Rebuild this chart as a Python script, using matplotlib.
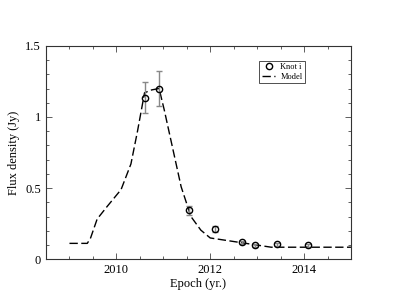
import matplotlib
matplotlib.use("Agg")
import matplotlib.pyplot as plt
from matplotlib.ticker import MultipleLocator, FormatStrFormatter

plt.rcParams['font.family'] = ['Liberation Serif', 'DejaVu Serif']

# observed flux of knot i
epoch = [2010.61, 2010.91, 2011.55, 2012.11, 2012.67, 2012.96, 2013.43, 2014.08]
flux = [1.135, 1.20, 0.344, 0.213, 0.119, 0.10, 0.107, 0.10]
flux_err = [0.11, 0.12, 0.03, 0.02, 0.012, 0.01, 0.01, 0.01]

# model light curve
model_t = [2009.0, 2009.38, 2009.45, 2009.59, 2009.8, 2010.1, 2010.31, 2010.45,
           2010.6, 2010.75, 2010.91, 2011.02, 2011.2, 2011.38, 2011.59, 2011.8,
           2012.0, 2012.3, 2012.6, 2013.0, 2013.3, 2014.0, 2015.0]
model_f = [0.112, 0.112, 0.15, 0.283, 0.37, 0.49, 0.67, 0.90,
           1.17, 1.19, 1.20, 1.05, 0.78, 0.51, 0.30, 0.205,
           0.15, 0.135, 0.12, 0.10, 0.085, 0.085, 0.085]

fig = plt.figure(figsize=(3.95, 3.05), dpi=100)
ax = fig.add_axes([0.1165, 0.1498, 0.772, 0.700])

ax.plot(model_t, model_f, ls=(0, (6, 2.5)), color='black', lw=1.0, label='Model')
ax.errorbar(epoch, flux, yerr=flux_err, fmt='none', ecolor='#888888',
            elinewidth=1.0, capsize=2.5, capthick=1.0)
ax.plot(epoch, flux, 'o', mfc='none', mec='black', ms=4.5, mew=1.0, ls='none',
        label='Knot i')

ax.set_xlim(2008.5, 2015)
ax.set_ylim(0, 1.5)
ax.xaxis.set_major_locator(MultipleLocator(2))
ax.xaxis.set_minor_locator(MultipleLocator(0.5))
ax.yaxis.set_major_locator(MultipleLocator(0.5))
ax.yaxis.set_minor_locator(MultipleLocator(0.1))
ax.yaxis.set_major_formatter(FormatStrFormatter('%g'))
ax.tick_params(which='both', direction='in', top=True, right=True,
               labelsize=9, width=0.6, colors='#444444', labelcolor='black')
ax.tick_params(which='major', length=4)
ax.tick_params(which='minor', length=2.5)
for s in ax.spines.values():
    s.set_linewidth(0.8)
    s.set_color('#333333')

ax.set_xlabel('Epoch (yr.)', fontsize=9, labelpad=1)
ax.set_ylabel('Flux density (Jy)', fontsize=9, labelpad=4)

h, l = ax.get_legend_handles_labels()
leg = ax.legend(h[::-1], l[::-1], loc='upper left', bbox_to_anchor=(0.70, 0.93),
                fontsize=6, frameon=True, fancybox=False, edgecolor='black',
                handlelength=1.6, handletextpad=0.6, borderpad=0.3,
                labelspacing=0.15, borderaxespad=0)
leg.get_frame().set_linewidth(0.6)

fig.savefig('out.png', dpi=100)
